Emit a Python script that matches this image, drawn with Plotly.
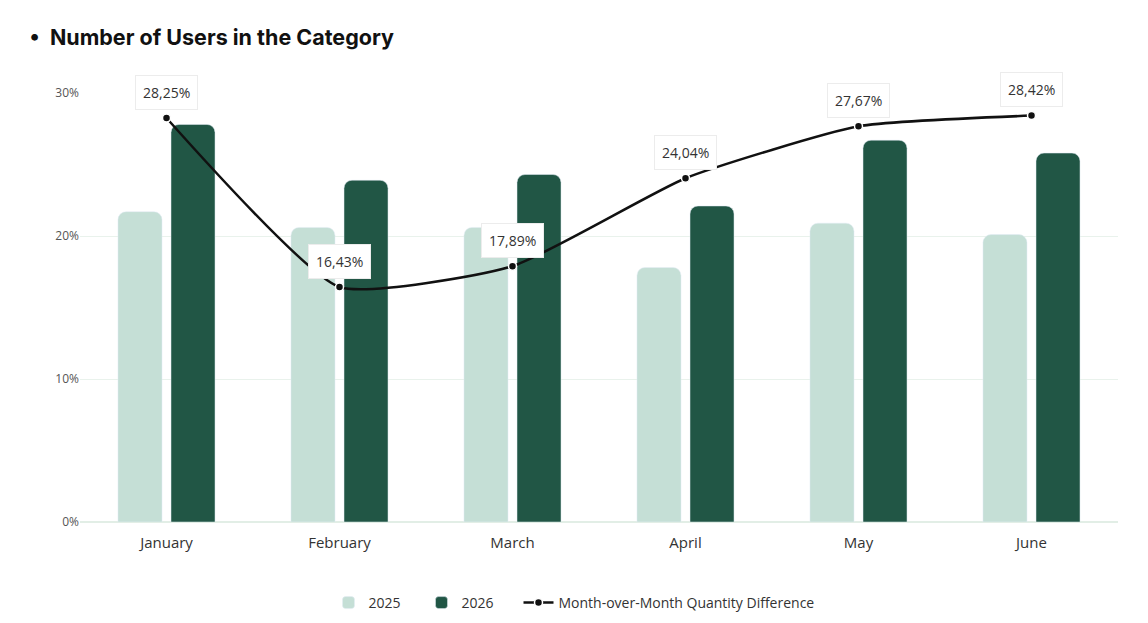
import plotly.graph_objects as go

# Chart data
months = ["January", "February", "March", "April", "May", "June"]
users_2025 = [21.7, 20.6, 20.6, 17.8, 20.9, 20.1]
users_2026 = [27.8, 23.9, 24.3, 22.1, 26.7, 25.8]
mom_diff = [28.25, 16.43, 17.89, 24.04, 27.67, 28.42]
mom_labels = ["28,25%", "16,43%", "17,89%", "24,04%", "27,67%", "28,42%"]

light_green = "#c5dfd6"
dark_green = "#215645"
text_font = "Open Sans"

# the page body has an 8px margin, so the plot div is ~1132x607 at (8, 8)
H = 607

fig = go.Figure()

fig.add_trace(go.Bar(x=months, y=users_2025, name="2025", marker_color=light_green, legendwidth=48))
fig.add_trace(go.Bar(x=months, y=users_2026, name="2026", marker_color=dark_green, legendwidth=52))
fig.add_trace(go.Scatter(
    x=months, y=mom_diff, name="Month-over-Month Quantity Difference",
    mode="lines+markers", line=dict(color="#111111", width=2.5, shape="spline", smoothing=0.5),
    marker=dict(size=8, color="#111111", line=dict(color="white", width=1.5)),
    cliponaxis=False,
))

# white label boxes above each line point
for m, v, t in zip(months, mom_diff, mom_labels):
    fig.add_annotation(x=m, y=v, text=t, showarrow=False, yshift=26,
                       bgcolor="white", bordercolor="#ececec", borderwidth=1, borderpad=7,
                       font=dict(family=text_font, size=14, color="#333333"))

fig.update_layout(
    title=dict(text="<b>•  Number of Users in the Category</b>", x=0.019, xanchor="left",
               y=1 - (37 - 8) / H, yanchor="middle", yref="container",
               font=dict(family="Inter", size=21.5, color="#111111")),
    font=dict(family=text_font, color="#333333"),
    plot_bgcolor="white",
    paper_bgcolor="white",
    barmode="group",
    bargap=0.387,
    bargroupgap=0.17,
    barcornerradius=8,
    margin=dict(l=72, r=22, t=85, b=93),
    legend=dict(orientation="h", x=0.5, xanchor="center", xref="container",
                y=1 - (603 - 8) / H, yanchor="middle", yref="container",
                font=dict(family=text_font, size=14, color="#333333"),
                itemwidth=30, traceorder="normal"),
    showlegend=True,
)

fig.update_xaxes(showgrid=False, showline=False, ticks="", ticklabelstandoff=10,
                 tickfont=dict(family=text_font, size=15, color="#333333"))
fig.update_yaxes(range=[0, 30], tickvals=[0, 10, 20, 30], ticktext=["0%", "10%", "20%", "30%"],
                 showgrid=True, gridcolor="#e9f2ec", gridwidth=1, zeroline=True,
                 zerolinecolor="#e2eee6", zerolinewidth=1.5, showline=False,
                 ticks="", ticklen=0, tickfont=dict(family=text_font, size=12, color="#555555"))

fig.write_html("out.html")
